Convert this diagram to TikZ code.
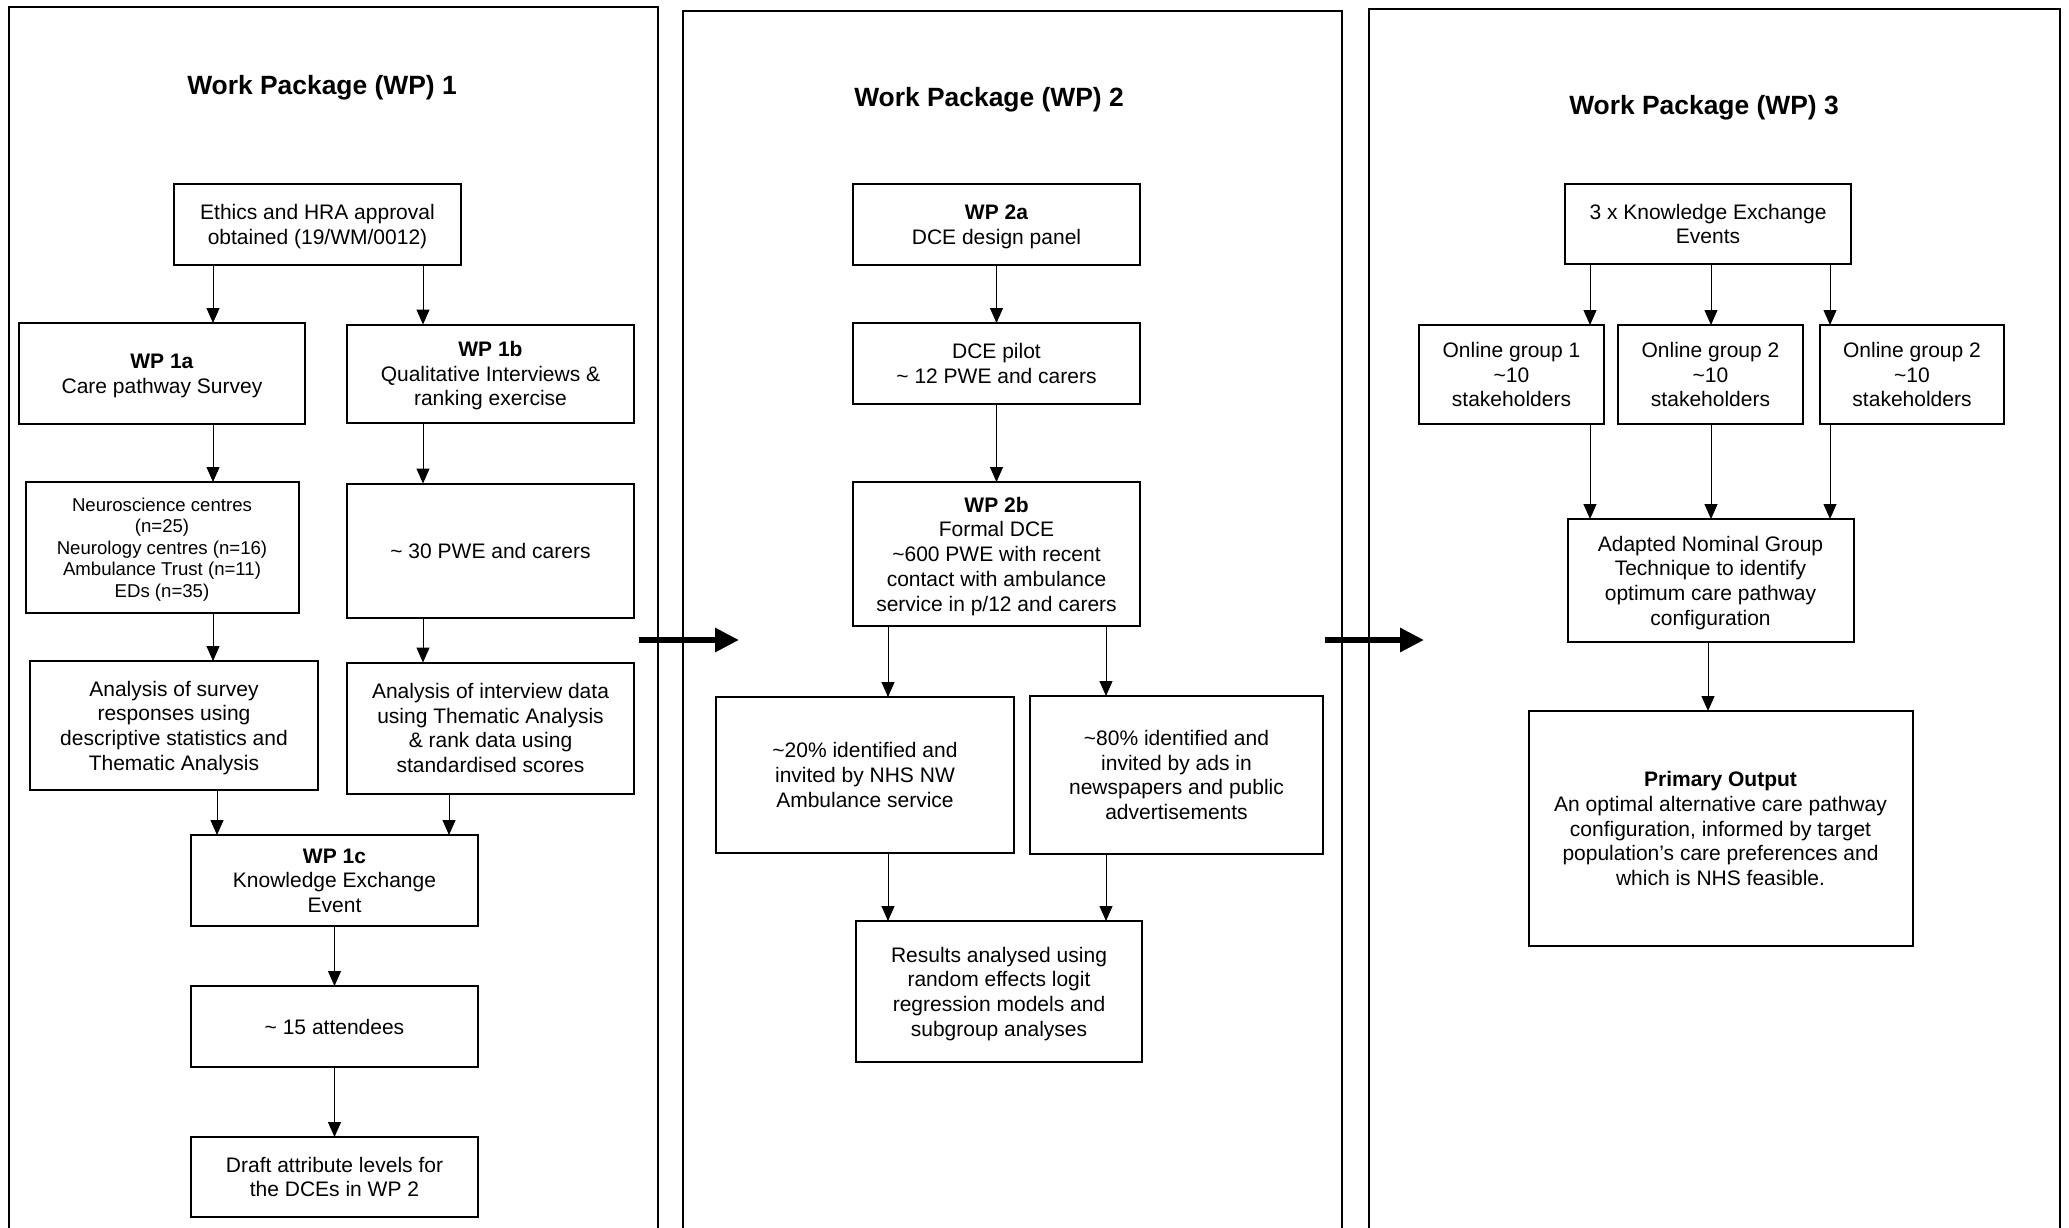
\documentclass[tikz,border=0pt]{standalone}
\usepackage{fontspec}
\setmainfont{Liberation Sans}
\usepackage{tikz}
\usetikzlibrary{shapes,arrows,arrows.meta,positioning,calc}

\begin{document}
\begin{tikzpicture}[x=1pt, y=-1pt, node distance=1.0cm]
    \tikzstyle{panel} = [rectangle, anchor=north west, draw=black, line width=1.3pt, outer sep=0pt, minimum height=1300pt]
    \tikzstyle{title} = [font=\fontsize{26.4}{30}\selectfont\bfseries]
    \tikzstyle{box} = [rectangle, minimum width=287pt, text centered, align=center, text depth=0pt, draw=black, line width=2pt, outer sep=0pt, inner sep=3pt, font=\fontsize{21}{24.7}\selectfont]
    \tikzstyle{arrow} = [line width=1pt, -{Triangle[width=13pt,length=15pt]}]
    \tikzstyle{bigarrow} = [line width=6pt, -{Triangle[width=23pt,length=24pt]}]

    \useasboundingbox (0,0) rectangle (2069,1228);
    \clip (0,0) rectangle (2069,1228);

    \node (pan1) [panel, minimum width=649pt] at (9,7) {};
    \node (pan2) [panel, minimum width=659pt] at (683,11) {};
    \node (pan3) [panel, minimum width=691pt] at (1369,9) {};

    \node (tit1) [title] at (322,87.6) {Work Package (WP) 1};
    \node (tit2) [title] at (989,99.9) {Work Package (WP) 2};
    \node (tit3) [title] at (1704,107.4) {Work Package (WP) 3};

    \node (eth) [box, minimum height=81pt] at (317.5,224.5) {Ethics and HRA approval\\obtained (19/WM/0012)};
    \node (wp1a) [box, minimum width=286pt, minimum height=101pt] at (162,373.5) {\textbf{WP 1a}\\Care pathway Survey};
    \node (wp1b) [box, minimum height=98pt, right=42pt of wp1a] {\textbf{WP 1b}\\Qualitative Interviews \&\\ranking exercise};
    \node (sites) [box, minimum width=273pt, minimum height=131pt, below=58pt of wp1a, font=\fontsize{18.6}{21.4}\selectfont] {Neuroscience centres\\(n=25)\\Neurology centres (n=16)\\Ambulance Trust (n=11)\\EDs (n=35)};
    \node (pwe) [box, minimum height=134pt, below=61pt of wp1b] {\textasciitilde{} 30 PWE and carers};
    \node (anasv) [box, minimum width=288pt, minimum height=129pt, below=48pt of sites, xshift=12pt] {Analysis of survey\\responses using\\descriptive statistics and\\Thematic Analysis};
    \node (anint) [box, minimum height=131pt, below=45pt of pwe] {Analysis of interview data\\using Thematic Analysis\\\& rank data using\\standardised scores};
    \node (wp1c) [box, minimum height=91pt] at (334.5,880.5) {\textbf{WP 1c}\\Knowledge Exchange\\Event};
    \node (att) [box, minimum height=81pt, below=60pt of wp1c] {\textasciitilde{} 15 attendees};
    \node (draft) [box, minimum height=80pt, below=70pt of att] {Draft attribute levels for\\the DCEs in WP 2};

    \node (wp2a) [box, minimum height=81pt] at (996.5,224.5) {\textbf{WP 2a}\\DCE design panel};
    \node (pilot) [box, minimum height=81pt, below=58pt of wp2a] {DCE pilot\\\textasciitilde{} 12 PWE and carers};
    \node (wp2b) [box, minimum height=144pt, below=78pt of pilot] {\textbf{WP 2b}\\Formal DCE\\\textasciitilde600 PWE with recent\\contact with ambulance\\service in p/12 and carers};
    \node (nw) [box, minimum width=298pt, minimum height=156pt] at (865,775) {\textasciitilde20\% identified and\\invited by NHS NW\\Ambulance service};
    \node (ads) [box, minimum width=293pt, minimum height=158pt, right=16pt of nw] {\textasciitilde80\% identified and\\invited by ads in\\newspapers and public\\advertisements};
    \node (res) [box, minimum width=286pt, minimum height=141pt] at (999,991.5) {Results analysed using\\random effects logit\\regression models and\\subgroup analyses};

    \node (kee) [box, minimum width=286pt, minimum height=80pt] at (1708,224) {3 x Knowledge Exchange\\Events};
    \node (grp2) [box, minimum width=185pt, minimum height=99pt] at (1710.5,374.5) {Online group 2\\\textasciitilde10\\stakeholders};
    \node (grp1) [box, minimum width=185pt, minimum height=99pt, left=14pt of grp2] {Online group 1\\\textasciitilde10\\stakeholders};
    \node (grp3) [box, minimum width=184pt, minimum height=99pt, right=17pt of grp2] {Online group 2\\\textasciitilde10\\stakeholders};
    \node (ngt) [box, minimum width=286pt, minimum height=123pt, below=95pt of grp2] {Adapted Nominal Group\\Technique to identify\\optimum care pathway\\configuration};
    \node (out) [box, minimum width=384pt, minimum height=235pt, below=69pt of ngt, xshift=10pt] {\textbf{Primary Output}\\An optimal alternative care pathway\\configuration, informed by target\\population’s care preferences and\\which is NHS feasible.};

    \coordinate (c1) at (213,0);
    \coordinate (c2) at (423,0);
    \coordinate (c3) at (217,0);
    \coordinate (c4) at (449,0);
    \coordinate (c5) at (888,0);
    \coordinate (c6) at (1106,0);
    \coordinate (c7) at (1590,0);
    \coordinate (c8) at (1711,0);
    \coordinate (c9) at (1830,0);
    \coordinate (c10) at (1708,0);

    \draw [arrow] (eth.south -| c1) -- (wp1a.north -| c1);
    \draw [arrow] (eth.south -| c2) -- (wp1b.north -| c2);
    \draw [arrow] (wp1a.south -| c1) -- (sites.north -| c1);
    \draw [arrow] (wp1b.south -| c2) -- (pwe.north -| c2);
    \draw [arrow] (sites.south -| c1) -- (anasv.north -| c1);
    \draw [arrow] (pwe.south -| c2) -- (anint.north -| c2);
    \draw [arrow] (anasv.south -| c3) -- (wp1c.north -| c3);
    \draw [arrow] (anint.south -| c4) -- (wp1c.north -| c4);
    \draw [arrow] (wp1c) -- (att);
    \draw [arrow] (att) -- (draft);

    \draw [arrow] (wp2a) -- (pilot);
    \draw [arrow] (pilot) -- (wp2b);
    \draw [arrow] (wp2b.south -| c5) -- (nw.north -| c5);
    \draw [arrow] (wp2b.south -| c6) -- (ads.north -| c6);
    \draw [arrow] (nw.south -| c5) -- (res.north -| c5);
    \draw [arrow] (ads.south -| c6) -- (res.north -| c6);

    \draw [arrow] (kee.south -| c7) -- (grp1.north -| c7);
    \draw [arrow] (kee.south -| c8) -- (grp2.north -| c8);
    \draw [arrow] (kee.south -| c9) -- (grp3.north -| c9);
    \draw [arrow] (grp1.south -| c7) -- (ngt.north -| c7);
    \draw [arrow] (grp2.south -| c8) -- (ngt.north -| c8);
    \draw [arrow] (grp3.south -| c9) -- (ngt.north -| c9);
    \draw [arrow] (ngt.south -| c10) -- (out.north -| c10);

    \coordinate (go1) at (639,640);
    \coordinate (to2) at (739,640);
    \coordinate (go2) at (1325,640);
    \coordinate (to3) at (1424,640);
    \draw [bigarrow] (go1) -- (to2);
    \draw [bigarrow] (go2) -- (to3);
\end{tikzpicture}
\end{document}
